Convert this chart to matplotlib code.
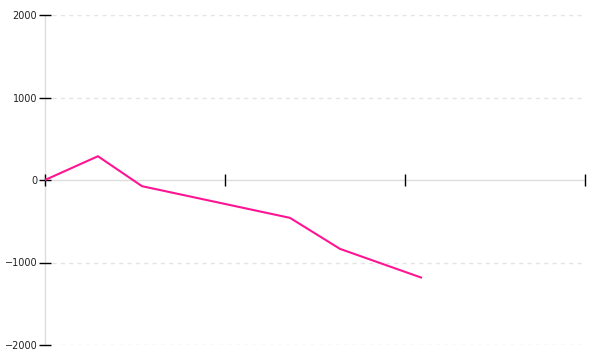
import matplotlib
matplotlib.use("Agg")
import matplotlib.pyplot as plt

# data
x_values = [0.0, 0.294, 0.539, 1.361, 1.639, 2.089]
y_values = [0, 288, -75, -459, -835, -1182]
x_ticks = [0, 1, 2, 3]
y_ticks = [-2000, -1000, 0, 1000, 2000]
y_tick_labels = ["\u22122000", "\u22121000", "0", "1000", "2000"]

fig = plt.figure(figsize=(6, 3.6), dpi=100)
ax = fig.add_axes([0.075, 1 - 345 / 360, 0.9, 330 / 360])

ax.plot(x_values, y_values, color="#ff1493", lw=1.5, solid_joinstyle="miter")

ax.set_xlim(0, 3)
ax.set_ylim(-2000, 2000)

for s in ["top", "right"]:
    ax.spines[s].set_visible(False)
ax.spines["left"].set_color("#dddddd")
ax.spines["left"].set_linewidth(1)
ax.spines["bottom"].set_position(("data", 0))
ax.spines["bottom"].set_color("#dddddd")
ax.spines["bottom"].set_linewidth(1)
ax.spines["left"].set_zorder(0.5)
ax.spines["bottom"].set_zorder(0.5)

ax.set_xticks(x_ticks)
ax.set_xticklabels([])
ax.tick_params(axis="x", direction="inout", length=9, width=1, color="black")

ax.set_yticks(y_ticks)
ax.set_yticklabels(y_tick_labels)
ax.tick_params(axis="y", direction="inout", length=9, width=1, color="black",
               labelsize=7, pad=1, labelcolor="#222222")

for v in [-2000, -1000, 1000, 2000]:
    ax.axhline(v, xmin=7 / 540, xmax=1, color="#e4e4e4", lw=1,
               linestyle=(0, (3, 3)), zorder=0)

fig.savefig("out.png", dpi=100)
